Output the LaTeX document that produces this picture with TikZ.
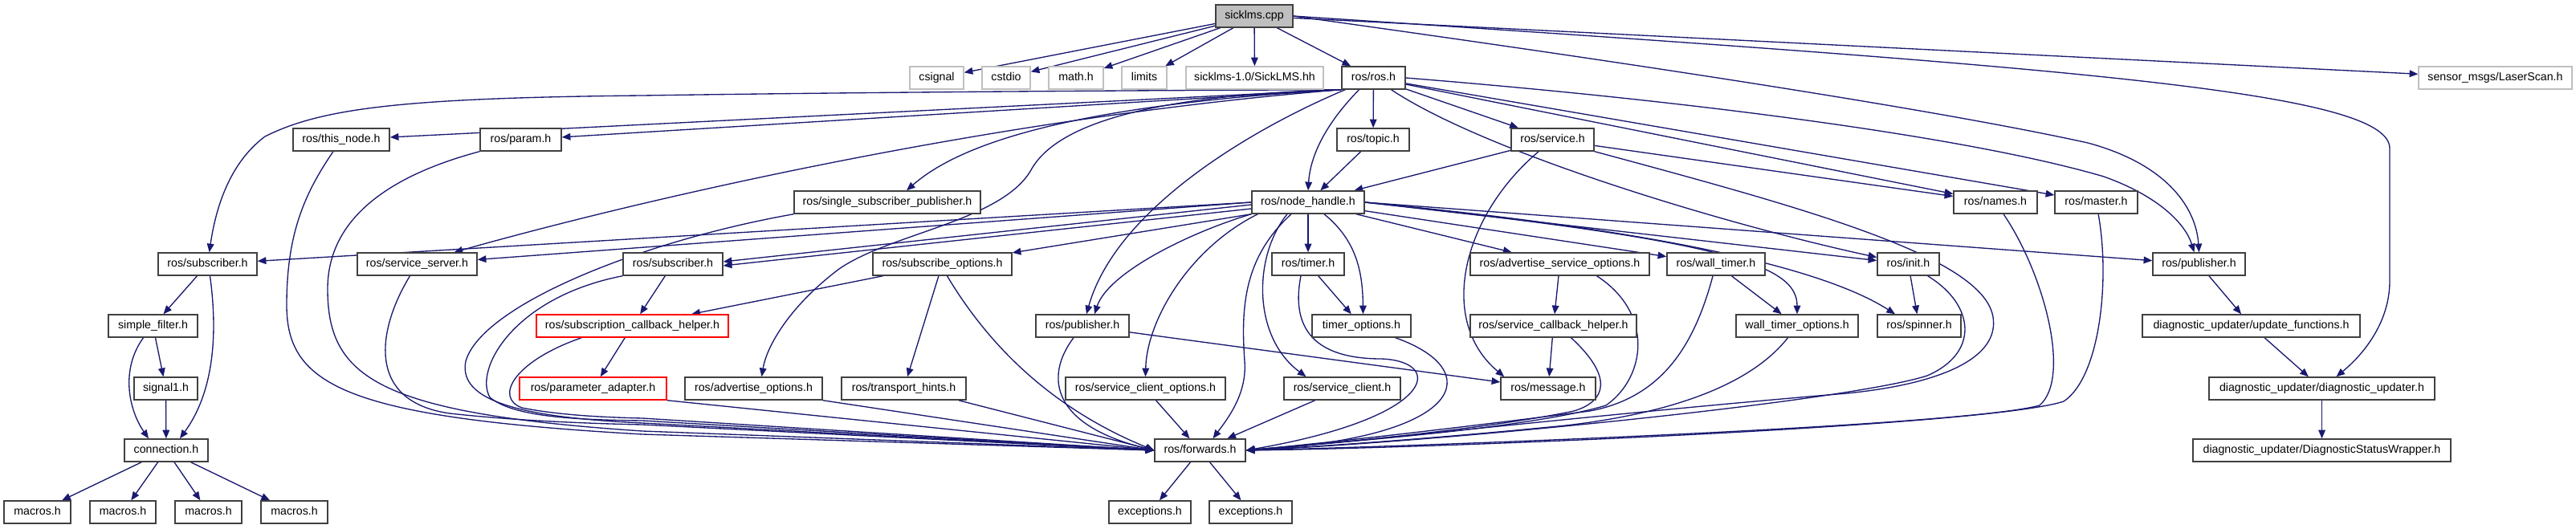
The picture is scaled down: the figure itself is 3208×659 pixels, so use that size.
\documentclass[tikz,border=0pt]{standalone}
\usepackage{fontspec}
\setmainfont{Liberation Sans}
\usetikzlibrary{arrows.meta,calc}
\pgfdeclarelayer{background}
\pgfsetlayers{background,main}
\definecolor{edgec}{HTML}{191970}
\definecolor{bord}{HTML}{404040}
\definecolor{gbord}{HTML}{BFBFBF}
\definecolor{rootfill}{HTML}{BFBFBF}
\newcommand{\mybox}[6][nb]{\node[#1,minimum width={#5*0.75pt}] (#2) at (#3,#4) {#6};}
\begin{document}
\begin{tikzpicture}[x=0.75pt,y=-0.75pt,
  nb/.style={draw=bord,line width=1.1pt,fill=white,minimum height=21pt,inner sep=0pt,
    font=\fontsize{10.65pt}{12pt}\selectfont,text height=7.6pt,text depth=2.2pt},
  gb/.style={nb,draw=gbord},
  rb/.style={nb,draw=red},
  rootb/.style={nb,fill=rootfill},
  e/.style={draw=edgec,line width=1pt,-{Triangle[length=8pt,width=6.5pt]}}]
\useasboundingbox (0,0) rectangle (3208,659);
% row 0
\mybox[rootb]{root}{1562}{20}{96}{sicklms.cpp}
% row 1
\mybox[gb]{csignal}{1166.5}{97}{67}{csignal}
\mybox[gb]{cstdio}{1253}{97}{60}{cstdio}
\mybox[gb]{mathh}{1340}{97}{68}{math.h}
\mybox[gb]{limits}{1425}{97}{56}{limits}
\mybox[gb]{sickhh}{1562.5}{97}{171}{sicklms-1.0/SickLMS.hh}
\mybox{rosh}{1710.5}{97}{79}{ros/ros.h}
\mybox[gb]{laser}{3107.5}{97}{191}{sensor\_msgs/LaserScan.h}
% row 2
\mybox{thisnode}{425}{174}{120}{ros/this\_node.h}
\mybox{param}{648.5}{174}{101}{ros/param.h}
\mybox{topic}{1710}{174}{90}{ros/topic.h}
\mybox{service}{1933.5}{174}{103}{ros/service.h}
% row 3
\mybox{ssp}{1105}{252}{232}{ros/single\_subscriber\_publisher.h}
\mybox{nodehandle}{1629}{252}{140}{ros/node\_handle.h}
\mybox{names}{2485}{252}{104}{ros/names.h}
\mybox{master}{2610.5}{252}{103}{ros/master.h}
% row 4
\mybox{sub1}{258.5}{329}{123}{ros/subscriber.h}
\mybox{srvserver}{519.5}{329}{149}{ros/service\_server.h}
\mybox{sub2}{838}{329}{124}{ros/subscriber.h}
\mybox{subopts}{1173.5}{329}{173}{ros/subscribe\_options.h}
\mybox{timer}{1629}{329}{90}{ros/timer.h}
\mybox{advsrvopts}{1942.5}{329}{223}{ros/advertise\_service\_options.h}
\mybox{walltimer}{2137}{329}{122}{ros/wall\_timer.h}
\mybox{init}{2376.5}{329}{77}{ros/init.h}
\mybox{pub2}{2738.5}{329}{115}{ros/publisher.h}
% row 5
\mybox{simplefilter}{190.5}{406}{111}{simple\_filter.h}
\mybox[rb]{subcbhelper}{787.5}{406}{239}{ros/subscription\_callback\_helper.h}
\mybox{pub1}{1348}{406}{116}{ros/publisher.h}
\mybox{timeropts}{1695.5}{406}{123}{timer\_options.h}
\mybox{srvcbhelper}{1934.5}{406}{207}{ros/service\_callback\_helper.h}
\mybox{walltimeropts}{2238}{406}{152}{wall\_timer\_options.h}
\mybox{spinner}{2390}{406}{104}{ros/spinner.h}
\mybox{updfuncs}{2803.5}{406}{271}{diagnostic\_updater/update\_functions.h}
% row 6
\mybox{signal1}{206.5}{484}{79}{signal1.h}
\mybox[rb]{paramadapter}{738.5}{484}{183}{ros/parameter\_adapter.h}
\mybox{advopts}{938.5}{484}{171}{ros/advertise\_options.h}
\mybox{transport}{1125.5}{484}{155}{ros/transport\_hints.h}
\mybox{srvclientopts}{1426.5}{484}{199}{ros/service\_client\_options.h}
\mybox{srvclient}{1671.5}{484}{145}{ros/service\_client.h}
\mybox{message}{1928}{484}{118}{ros/message.h}
\mybox{diagupd}{2891.5}{484}{281}{diagnostic\_updater/diagnostic\_updater.h}
% row 7
\mybox{connection}{207}{561}{104}{connection.h}
\mybox{forwards}{1494.5}{561}{113}{ros/forwards.h}
\mybox{dsw}{2891.5}{561}{321}{diagnostic\_updater/DiagnosticStatusWrapper.h}
% row 8
\mybox{m1}{46.5}{638}{83}{macros.h}
\mybox{m2}{153}{638}{82}{macros.h}
\mybox{m3}{259.5}{638}{83}{macros.h}
\mybox{m4}{366.5}{638}{83}{macros.h}
\mybox{exc1}{1432}{638}{102}{exceptions.h}
\mybox{exc2}{1557.5}{638}{103}{exceptions.h}

\begin{pgfonlayer}{background}
% sicklms.cpp
\draw[e] (root) -- (csignal);
\draw[e] (root) -- (cstdio);
\draw[e] (root) -- (mathh);
\draw[e] (root) -- (limits);
\draw[e] (root) -- (sickhh);
\draw[e] (root) -- (rosh);
\draw[e] (root) -- (laser);
\draw[e] (root.east) .. controls (2600,85) and (2976,115) .. (2976,185) -- (2976,350) .. controls (2976,400) and (2945,440) .. (diagupd);
\draw[e] (root.east) .. controls (2150,95) and (2450,145) .. (2600,178) .. controls (2700,205) and (2735,260) .. (pub2.north);
% ros/ros.h
\draw[e] (rosh.south west) .. controls (1300,113) and (1000,116) .. (800,119) .. controls (500,122) and (400,135) .. (330,170) .. controls (290,200) and (270,250) .. (sub1);
\draw[e] (rosh.south west) -- (thisnode);
\draw[e] (rosh.south west) -- (param);
\draw[e] (rosh.south west) .. controls (1200,150) and (750,262) .. ($(srvserver.north)+(46,0)$);
\draw[e] (rosh.south west) .. controls (1350,130) and (1200,175) .. ($(ssp.north)+(24,0)$);
\draw[e] (rosh.south west) .. controls (1450,118) and (1320,150) .. (1285,210) .. controls (1250,275) and (1110,290) .. (1045,335) .. controls (985,380) and (955,430) .. ($(advopts.north)+(10,0)$);
\draw[e] (rosh) -- (topic);
\draw[e] ($(rosh.south)+(-18,0)$) .. controls (1655,150) and (1632,190) .. (nodehandle.north);
\draw[e] (rosh) -- (service);
\draw[e] (rosh) -- (names);
\draw[e] (rosh) -- (master);
\draw[e] (rosh.east) .. controls (2100,125) and (2450,170) .. (2620,220) .. controls (2690,245) and (2722,280) .. ($(pub2.north)+(-6,0)$);
\draw[e] (rosh) .. controls (1850,190) and (2150,280) .. (init);
\draw[e] (rosh) .. controls (1560,160) and (1390,260) .. ($(pub1.north)+(5,0)$);
% ros/node_handle.h
\draw[e] (nodehandle.west) -- (sub1);
\draw[e] (nodehandle.west) -- (srvserver);
\draw[e] ($(nodehandle.west)+(0,3)$) -- ($(sub2.east)+(0,-3)$);
\draw[e] ($(nodehandle.west)+(0,8)$) -- ($(sub2.east)+(0,2)$);
\draw[e] (nodehandle.south west) -- (subopts);
\draw[e] (nodehandle.south west) .. controls (1480,290) and (1380,340) .. ($(pub1.north)+(15,0)$);
\draw[e] ($(nodehandle.south west)+(8,0)$) .. controls (1480,310) and (1428,400) .. (srvclientopts.north);
\draw[e] ($(nodehandle.south)+(-21,0)$) .. controls (1550,320) and (1545,380) .. (1550,450) .. controls (1553,490) and (1530,520) .. ($(forwards.north)+(16,0)$);
\draw[e] ($(nodehandle.south)+(-26,0)$) .. controls (1560,320) and (1560,420) .. ($(srvclient.north)+(-45,0)$);
\draw[e] (nodehandle) -- (timer);
\draw[e] ($(nodehandle.south)+(20,0)$) .. controls (1690,300) and (1697,340) .. ($(timeropts.north)+(2,0)$);
\draw[e] (nodehandle) -- (advsrvopts);
\draw[e] (nodehandle) -- (walltimer);
\draw[e] (nodehandle.east) -- (init);
\draw[e] (nodehandle.east) .. controls (2150,300) and (2238,330) .. (walltimeropts.north);
\draw[e] (nodehandle.east) .. controls (2100,290) and (2280,340) .. ($(spinner.north)+(-30,0)$);
\draw[e] (nodehandle.east) -- (pub2);
% topic, service
\draw[e] (topic) -- (nodehandle);
\draw[e] (service) -- (nodehandle);
\draw[e] (service) -- (names);
\draw[e] (service) .. controls (1820,270) and (1790,400) .. ($(message.north west)+(5,0)$);
\draw[e] (service.south east) .. controls (2250,260) and (2470,320) .. (2482,395) .. controls (2490,445) and (2420,478) .. (2300,490) .. controls (2000,515) and (1700,550) .. (forwards.east);
% names, master, init
\draw[e] (names) .. controls (2545,340) and (2580,470) .. (2540,505) .. controls (2450,530) and (1800,555) .. (forwards.east);
\draw[e] (master) .. controls (2628,350) and (2615,470) .. (2570,500) .. controls (2480,530) and (1800,558) .. (forwards.east);
\draw[e] (init) .. controls (2460,380) and (2465,440) .. (2400,468) .. controls (2300,500) and (1800,550) .. (forwards.east);
\draw[e] (init) -- (spinner);
% wall timer
\draw[e] (walltimer) -- (walltimeropts);
\draw[e] (walltimer) .. controls (2110,430) and (2070,495) .. (1980,512) .. controls (1800,535) and (1650,552) .. (forwards.east);
\draw[e] (walltimeropts) .. controls (2180,480) and (2080,515) .. (1950,530) .. controls (1800,545) and (1650,556) .. (forwards.east);
% advertise service options
\draw[e] (advsrvopts) -- (srvcbhelper);
\draw[e] ($(advsrvopts.south)+(46,0)$) .. controls (2060,390) and (2050,470) .. (2000,505) .. controls (1900,535) and (1650,552) .. (forwards.east);
\draw[e] (srvcbhelper) -- (message);
\draw[e] ($(srvcbhelper.south)+(22,0)$) .. controls (2010,470) and (2000,500) .. (1960,512) .. controls (1850,535) and (1650,553) .. (forwards.east);
% timer
\draw[e] (timer) -- (timeropts);
\draw[e] ($(timer.south)+(-9,0)$) .. controls (1605,420) and (1650,447) .. (1720,447) .. controls (1800,450) and (1790,520) .. (forwards.east);
\draw[e] (timeropts) .. controls (1850,460) and (1830,545) .. (forwards.east);
% publisher
\draw[e] (pub1) .. controls (1300,470) and (1310,530) .. (forwards.west);
\draw[e] (pub1) -- (message);
\draw[e] (srvclientopts) -- (forwards);
\draw[e] (srvclient) -- (forwards);
% subscribe options
\draw[e] (subopts) -- (subcbhelper);
\draw[e] (subopts) -- (transport);
\draw[e] ($(subopts.south)+(6,0)$) .. controls (1225,420) and (1300,505) .. (forwards.west);
% subscriber (middle)
\draw[e] (sub2) -- (subcbhelper);
\draw[e] (sub2.south west) .. controls (640,370) and (590,460) .. (610,495) .. controls (640,520) and (720,523) .. (800,524) -- (forwards.west);
\draw[e] ($(subcbhelper.south west)+(57,0)$) .. controls (640,450) and (615,495) .. (650,508) .. controls (700,518) and (760,520) .. (800,521) -- (forwards.west);
\draw[e] (subcbhelper) -- (paramadapter);
\draw[e] (paramadapter.south east) -- (forwards.west);
\draw[e] (advopts.south east) -- (forwards.west);
\draw[e] ($(transport.south east)+(-10,0)$) -- (forwards.west);
% left column to forwards
\draw[e] (thisnode) .. controls (380,240) and (357,290) .. (357,380) .. controls (357,480) and (430,520) .. (800,541) -- (forwards.west);
\draw[e] (param.south west) .. controls (480,220) and (408,275) .. (408,360) .. controls (408,470) and (470,515) .. (800,537) -- (forwards.west);
\draw[e] (srvserver) .. controls (470,410) and (455,500) .. (560,515) .. controls (650,525) and (750,528) .. (800,529) -- (forwards.west);
\draw[e] (ssp.south west) .. controls (800,300) and (600,380) .. (580,450) .. controls (570,500) and (650,520) .. (800,527) -- (forwards.west);
% message filters part
\draw[e] (sub1) -- (simplefilter);
\draw[e] ($(sub1.south)+(3,0)$) .. controls (272,420) and (265,490) .. ($(connection.north)+(17,0)$);
\draw[e] (simplefilter) -- (signal1);
\draw[e] ($(simplefilter.south)+(-12,0)$) .. controls (150,460) and (160,510) .. ($(connection.north)+(-22,0)$);
\draw[e] (signal1) -- (connection);
\draw[e] (connection) -- (m1);
\draw[e] (connection) -- (m2);
\draw[e] (connection) -- (m3);
\draw[e] (connection) -- (m4);
% forwards
\draw[e] (forwards) -- (exc1);
\draw[e] (forwards) -- (exc2);
% diagnostic updater
\draw[e] (pub2) -- (updfuncs);
\draw[e] (updfuncs) -- (diagupd);
\draw[e] (diagupd) -- (dsw);
\end{pgfonlayer}
\end{tikzpicture}
\end{document}
